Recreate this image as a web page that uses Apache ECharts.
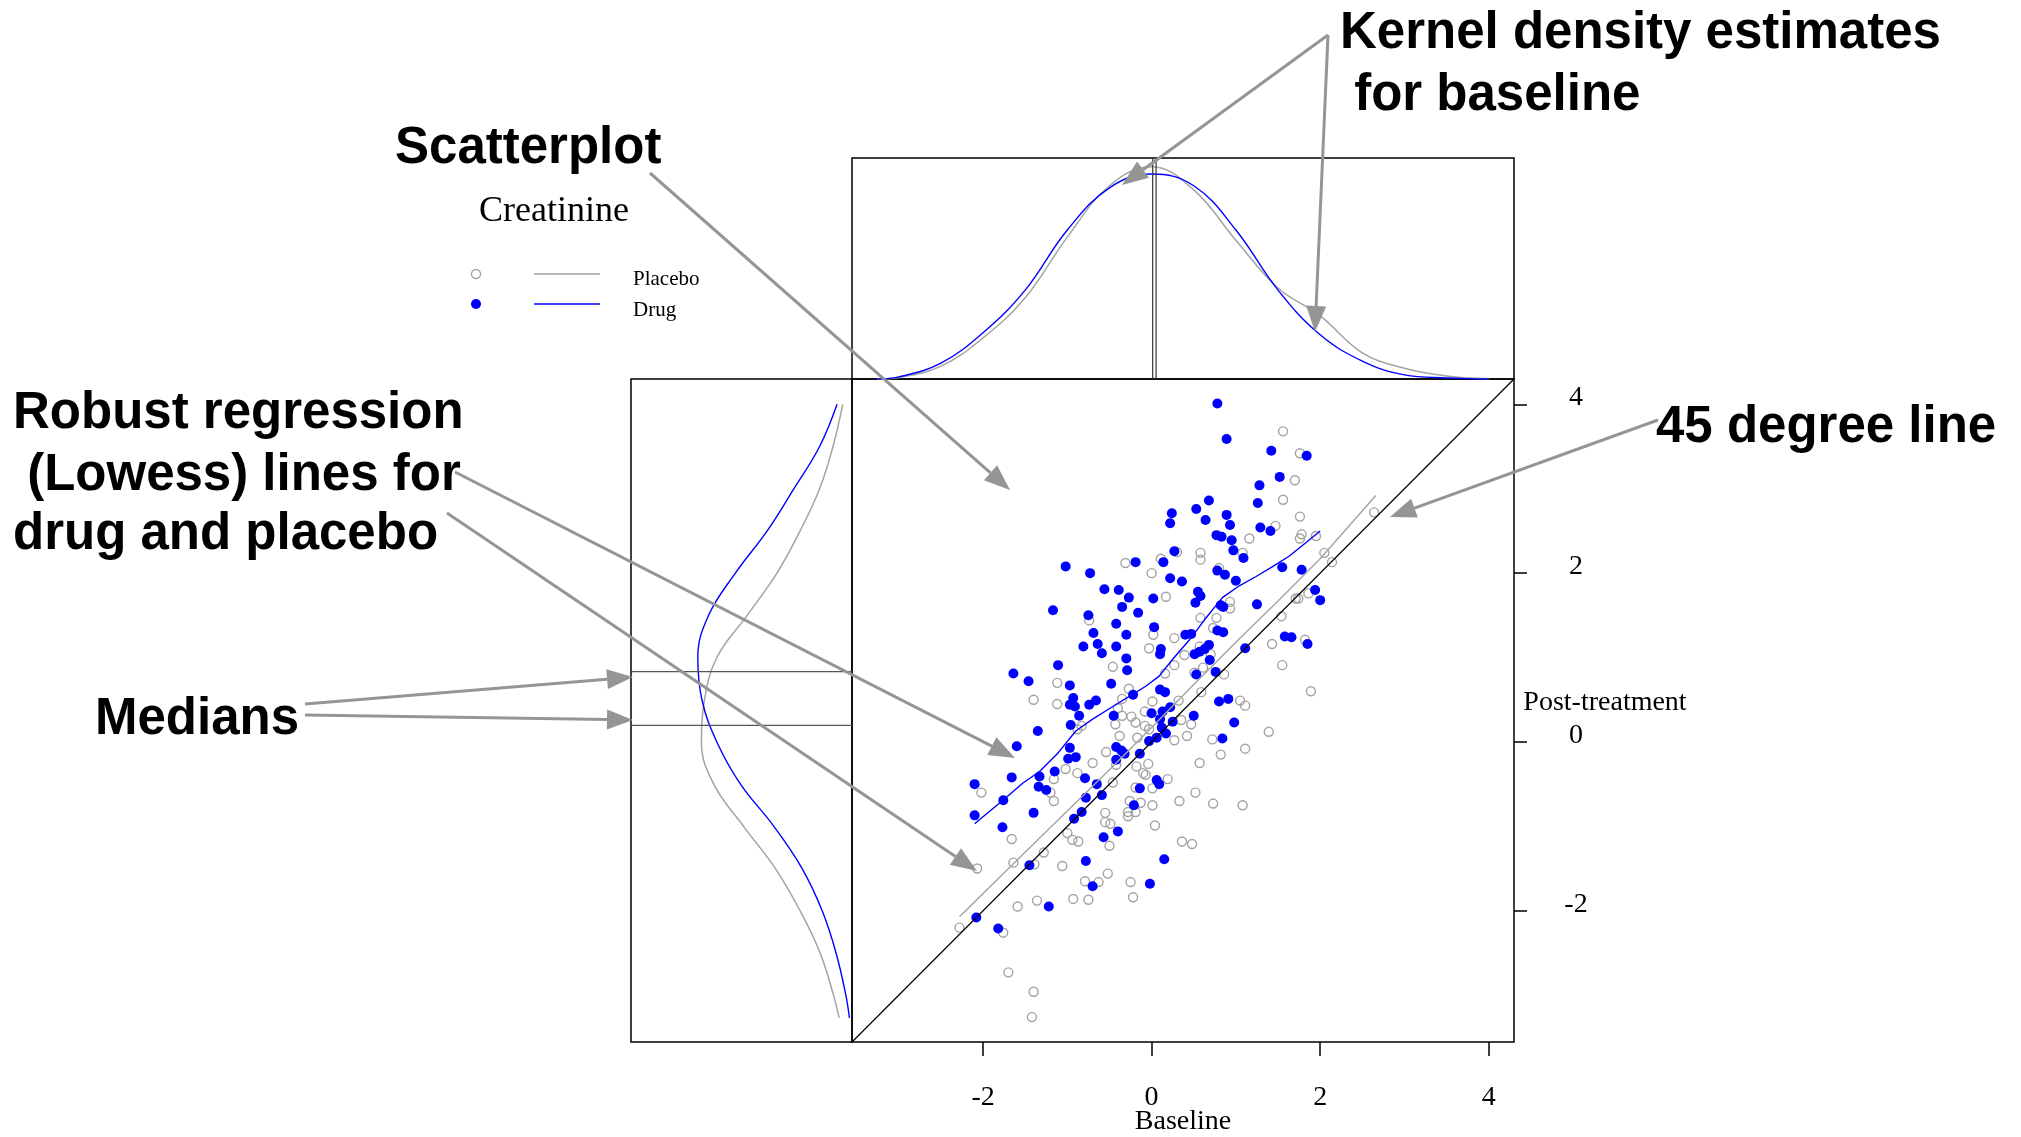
<!DOCTYPE html>
<html>
<head>
<meta charset="utf-8">
<title>Creatinine</title>
<script src="https://cdn.jsdelivr.net/npm/echarts@6/dist/echarts.min.js"></script>
<style>
  html, body { margin: 0; padding: 0; background: #fff; }
  #chart { width: 2021px; height: 1137px; }
</style>
</head>
<body>
<div id="chart"></div>
<script>
// axis range shared by baseline and post-treatment
const LO = -3.555
const HI = 4.3
const TICKS = [-2, 0, 2, 4]

// scatter: placebo (open grey circles)
const placeboX = [1.56, 1.76, 1.70, 1.56, 1.76, 1.47, 1.16, 1.78, 1.76, 1.95, 2.05, 2.14, 1.08, 0.58, 0.58, 0.30, 0.11, -0.31, 0.00, 0.17,
  0.80, 0.93, 0.93, 1.71, 1.74, 1.86, 1.54, -0.74, 0.58, 0.77, 0.02, 0.27, 0.73, 1.82, -0.03, 0.39, 0.57, 0.70, 1.43, 1.55,
  -0.46, 0.16, 0.27, 0.51, 0.61, 0.86, -1.12, -1.40, -1.12, -0.27, -0.35, 0.01, 0.32, 0.59, -0.40, -0.35, -0.24, -0.08, -0.43, -0.19,
  -0.08, -0.03, 0.35, 0.47, 0.27, 0.42, 0.72, 0.82, 0.57, 1.05, 1.11, 1.39, 1.11, 1.89, -0.38, -0.17, -0.54, -0.70, -0.42, -0.18,
  -0.04, -0.10, -0.07, 0.19, 0.01, -0.88, -1.02, -1.16, -0.88, -0.83, -1.20, -1.16, -2.02, -0.46, -0.19, -0.26, -0.13, 0.01, 0.33, 0.52,
  0.73, 1.08, -0.55, -0.28, -0.19, -0.55, -0.49, -0.28, 0.04, -1.00, -1.66, -0.94, -0.87, -0.50, -1.28, -1.64, -1.39, -2.07, -1.06, -0.52,
  -0.63, -0.79, -0.25, -0.22, -0.75, -0.93, -1.36, -1.59, 0.36, 0.48, -2.28, -1.76, -1.70, -1.40, -1.42, 2.64]
const placeboY = [3.68, 3.42, 3.10, 2.87, 2.67, 2.56, 2.41, 2.46, 2.41, 2.44, 2.24, 2.13, 2.24, 2.24, 2.16, 2.25, 2.17, 2.12, 2.00, 1.72,
  2.06, 1.66, 1.58, 1.70, 1.70, 1.76, 1.49, 1.44, 1.47, 1.47, 1.27, 1.23, 1.35, 1.21, 1.11, 1.03, 1.13, 1.04, 1.16, 0.91,
  0.89, 0.81, 0.91, 0.82, 0.88, 0.80, 0.70, 0.50, 0.45, 0.63, 0.51, 0.48, 0.49, 0.59, 0.40, 0.31, 0.30, 0.36, 0.21, 0.23,
  0.19, 0.15, 0.26, 0.21, 0.02, 0.07, 0.03, -0.15, -0.25, 0.49, 0.43, 0.12, -0.08, 0.60, 0.07, 0.05, -0.12, -0.25, -0.27, -0.29,
  -0.26, -0.37, -0.39, -0.44, -0.55, -0.37, -0.32, -0.44, 0.15, 0.19, -0.60, -0.70, -0.60, -0.48, -0.54, -0.70, -0.72, -0.75, -0.70, -0.60,
  -0.73, -0.75, -0.84, -0.83, -0.83, -0.95, -0.97, -0.88, -0.99, -1.08, -1.15, -1.16, -1.18, -1.23, -1.31, -1.43, -1.45, -1.50, -1.47, -1.56,
  -1.66, -1.65, -1.66, -1.84, -1.87, -1.86, -1.88, -1.95, -1.18, -1.21, -2.20, -2.26, -2.73, -2.96, -3.26, 2.72]

// scatter: drug (filled blue dots)
const drugX = [0.78, 0.89, 1.42, 1.84, 1.52, 1.28, 1.26, 0.68, 0.53, 0.24, 0.22, 0.64, 0.89, 0.93, 1.29, 1.41, 0.77, 0.83, 0.95, 0.97,
  1.09, 0.27, 0.14, -0.19, -1.02, -0.73, -0.56, -0.39, -0.27, -0.35, -0.16, 0.02, 0.22, 0.36, 0.55, 0.58, 0.52, 0.78, 0.87, 1.00,
  1.55, 1.78, 1.94, 2.00, 1.25, 0.82, 0.85, -1.17, -0.75, -0.42, -0.69, -0.30, 0.03, 0.40, 0.47, 0.78, 0.85, 1.58, 1.66, -0.81,
  -0.64, -0.59, -0.42, -0.30, -0.29, 0.11, 0.10, 0.51, 0.57, 0.63, 0.68, 0.69, 1.11, 0.76, 0.53, 1.85, -1.11, -1.64, -1.46, -0.97,
  -0.48, -0.93, -0.97, -0.91, -0.74, -0.66, -0.86, -0.22, -0.45, 0.10, 0.16, 0.00, 0.13, 0.22, 0.10, 0.25, 0.17, 0.12, 0.50, 0.80,
  0.91, 0.98, 0.84, -0.96, -1.35, -1.60, -0.97, -0.99, -0.90, -1.15, -1.33, -1.66, -2.10, -1.34, -1.25, -0.79, -0.65, -0.59, -0.78, -0.42,
  -0.36, -0.32, -0.42, -0.14, -0.03, 0.06, 0.06, 0.09, -0.14, -0.21, -1.76, -2.10, -1.40, -1.77, -0.83, -0.92, -0.40, -0.57, -0.78, -1.45,
  0.15, -0.70, -0.02, -1.22, -2.08, -1.82]
const drugY = [4.01, 3.59, 3.45, 3.39, 3.14, 3.04, 2.83, 2.86, 2.76, 2.71, 2.59, 2.63, 2.69, 2.57, 2.54, 2.50, 2.45, 2.43, 2.39, 2.27,
  2.18, 2.26, 2.13, 2.13, 2.08, 2.00, 1.81, 1.80, 1.71, 1.60, 1.53, 1.70, 1.94, 1.90, 1.78, 1.73, 1.65, 2.03, 1.98, 1.91,
  2.07, 2.04, 1.80, 1.68, 1.63, 1.62, 1.60, 1.56, 1.50, 1.40, 1.29, 1.27, 1.36, 1.27, 1.28, 1.32, 1.30, 1.25, 1.24, 1.13,
  1.16, 1.05, 1.13, 0.99, 0.85, 1.10, 1.04, 1.04, 1.07, 1.10, 1.15, 0.97, 1.11, 0.83, 0.80, 1.16, 0.91, 0.81, 0.72, 0.67,
  0.69, 0.52, 0.44, 0.42, 0.44, 0.49, 0.31, 0.56, 0.31, 0.62, 0.59, 0.34, 0.36, 0.41, 0.27, 0.24, 0.10, 0.17, 0.31, 0.48,
  0.51, 0.23, 0.04, 0.20, 0.13, -0.05, -0.07, -0.20, -0.18, -0.35, -0.41, -0.42, -0.50, -0.53, -0.57, -0.43, -0.50, -0.63, -0.66, -0.06,
  -0.10, -0.14, -0.21, -0.14, 0.01, 0.05, -0.45, -0.50, -0.55, -0.75, -0.69, -0.87, -0.84, -1.01, -0.83, -0.91, -1.06, -1.13, -1.41, -1.46,
  -1.39, -1.71, -1.68, -1.95, -2.08, -2.21]

// lowess fits
const placeboLowX = [-2.28, -1.80, -1.35, -0.94, -0.50, 0.00, 0.50, 1.00, 1.50, 2.00, 2.66]
const placeboLowY = [-2.07, -1.60, -1.16, -0.76, -0.33, 0.17, 0.68, 1.18, 1.67, 2.17, 2.92]
const drugLowX = [-2.10, -1.75, -1.53, -1.33, -1.11, -0.90, -0.70, -0.46, -0.23, -0.07, 0.09, 0.25, 0.45, 0.63, 0.84, 1.04, 1.24, 1.44, 1.63, 1.83, 2.00]
const drugLowY = [-0.97, -0.68, -0.49, -0.35, -0.13, 0.13, 0.27, 0.42, 0.56, 0.66, 0.78, 0.98, 1.21, 1.45, 1.71, 1.85, 1.96, 2.08, 2.20, 2.36, 2.50]

// kernel density of baseline (top panel)
const baseGrid = [-3.26, -3.0, -2.5, -2.0, -1.5, -1.0, -0.5, 0.0, 0.5, 1.0, 1.5, 2.0, 2.5, 3.0, 3.5, 4.0]
const placeboBaseDens = [0, 0.003, 0.025, 0.080, 0.158, 0.276, 0.376, 0.413, 0.368, 0.270, 0.177, 0.123, 0.051, 0.021, 0.006, 0.001]
const drugBaseDens = [0, 0.004, 0.031, 0.090, 0.173, 0.290, 0.372, 0.399, 0.376, 0.290, 0.173, 0.086, 0.035, 0.008, 0.002, 0]
const baseMedians = [0.013, 0.053]

// kernel density of post-treatment (left panel)
const postGrid = [4.0, 3.5, 3.0, 2.5, 2.0, 1.5, 1.0, 0.5, 0.0, -0.5, -1.0, -1.5, -2.0, -2.5, -3.0, -3.27]
const placeboPostDens = [0.018, 0.037, 0.063, 0.101, 0.146, 0.204, 0.263, 0.287, 0.293, 0.269, 0.211, 0.149, 0.101, 0.062, 0.036, 0.025]
const drugPostDens = [0.029, 0.063, 0.113, 0.165, 0.227, 0.279, 0.300, 0.292, 0.263, 0.217, 0.152, 0.097, 0.058, 0.031, 0.012, 0.005]
const postMedians = [0.834, 0.197]

const DENS_MAX = 0.43
const GREY = '#a3a3a3'
const BLUE = '#0000ff'
const ARROW = '#959595'
const SERIF = '"Liberation Serif", "DejaVu Serif", serif'
const SANS = '"Liberation Sans", Arial, sans-serif'

const zip = (a, b) => a.map((v, i) => [v, b[i]])

// grey annotation arrow with a filled head
function arrow(x1, y1, x2, y2) {
  const len = 26, half = 10
  const dx = x2 - x1, dy = y2 - y1
  const d = Math.sqrt(dx * dx + dy * dy)
  const ux = dx / d, uy = dy / d
  const bx = x2 - ux * len, by = y2 - uy * len
  return [
    { type: 'line', z: 100, shape: { x1, y1, x2: bx, y2: by }, style: { stroke: ARROW, lineWidth: 3 } },
    { type: 'polygon', z: 100, shape: { points: [[x2, y2], [bx - uy * half, by + ux * half], [bx + uy * half, by - ux * half]] }, style: { fill: ARROW } }
  ]
}

function label(text, x, y, size, opts = {}) {
  return {
    type: 'text', z: 100, x, y,
    style: {
      text, fill: '#000', fontSize: size,
      fontFamily: opts.family || SANS, fontWeight: opts.weight || 'bold',
      align: opts.align || 'left', verticalAlign: 'middle'
    }
  }
}

const frame = { show: true, borderColor: '#000', borderWidth: 1.5, backgroundColor: 'transparent', outerBoundsMode: 'none', containLabel: false }

const option = {
  animation: false,
  backgroundColor: '#fff',
  grid: [
    { left: 852, top: 379, width: 662, height: 663, ...frame },
    { left: 852, top: 158, width: 662, height: 221, ...frame },
    { left: 631, top: 379, width: 221, height: 663, ...frame }
  ],
  xAxis: [
    {
      gridIndex: 0, type: 'value', min: LO, max: HI, position: 'bottom',
      axisLine: { show: false, onZero: false },
      axisTick: { show: true, inside: false, length: 14, customValues: TICKS, lineStyle: { color: '#000', width: 1.5 } },
      axisLabel: { customValues: TICKS, margin: 42, color: '#000', fontSize: 28, fontFamily: SERIF },
      splitLine: { show: false }
    },
    { gridIndex: 1, type: 'value', min: LO, max: HI, show: false },
    { gridIndex: 2, type: 'value', min: 0, max: DENS_MAX, inverse: true, show: false }
  ],
  yAxis: [
    {
      gridIndex: 0, type: 'value', min: LO, max: HI, position: 'right',
      axisLine: { show: false, onZero: false },
      axisTick: { show: true, inside: false, length: 13, customValues: TICKS, lineStyle: { color: '#000', width: 1.5 } },
      axisLabel: { customValues: TICKS, margin: 62, align: 'center', verticalAlign: 'bottom', lineHeight: 13, color: '#000', fontSize: 28, fontFamily: SERIF },
      splitLine: { show: false }
    },
    { gridIndex: 1, type: 'value', min: 0, max: DENS_MAX, show: false },
    { gridIndex: 2, type: 'value', min: LO, max: HI, show: false }
  ],
  series: [
    {
      name: 'Placebo', type: 'scatter', xAxisIndex: 0, yAxisIndex: 0,
      data: zip(placeboX, placeboY), symbol: 'circle', symbolSize: 9,
      itemStyle: { color: 'rgba(0,0,0,0)', borderColor: GREY, borderWidth: 1.4, opacity: 1 }
    },
    {
      name: 'Drug', type: 'scatter', xAxisIndex: 0, yAxisIndex: 0,
      data: zip(drugX, drugY), symbol: 'circle', symbolSize: 10,
      itemStyle: { color: BLUE, opacity: 1 }
    },
    {
      name: '45 degree', type: 'line', xAxisIndex: 0, yAxisIndex: 0,
      data: [[LO, LO], [HI, HI]], showSymbol: false, lineStyle: { color: '#000', width: 1.2 }
    },
    {
      name: 'Placebo lowess', type: 'line', xAxisIndex: 0, yAxisIndex: 0,
      data: zip(placeboLowX, placeboLowY), showSymbol: false, lineStyle: { color: GREY, width: 1.4 }
    },
    {
      name: 'Drug lowess', type: 'line', xAxisIndex: 0, yAxisIndex: 0,
      data: zip(drugLowX, drugLowY), showSymbol: false, lineStyle: { color: BLUE, width: 1.4 }
    },
    // top panel: baseline densities and medians
    {
      type: 'line', xAxisIndex: 1, yAxisIndex: 1, data: zip(baseGrid, placeboBaseDens),
      smooth: 0.4, showSymbol: false, lineStyle: { color: GREY, width: 1.5 }
    },
    {
      type: 'line', xAxisIndex: 1, yAxisIndex: 1, data: zip(baseGrid, drugBaseDens),
      smooth: 0.4, showSymbol: false, lineStyle: { color: BLUE, width: 1.4 }
    },
    ...baseMedians.map(m => ({
      type: 'line', xAxisIndex: 1, yAxisIndex: 1, data: [[m, 0], [m, DENS_MAX]],
      showSymbol: false, lineStyle: { color: '#333', width: 1.2 }
    })),
    // left panel: post-treatment densities and medians
    {
      type: 'line', xAxisIndex: 2, yAxisIndex: 2, data: zip(placeboPostDens, postGrid),
      smooth: 0.4, showSymbol: false, lineStyle: { color: GREY, width: 1.5 }
    },
    {
      type: 'line', xAxisIndex: 2, yAxisIndex: 2, data: zip(drugPostDens, postGrid),
      smooth: 0.4, showSymbol: false, lineStyle: { color: BLUE, width: 1.4 }
    },
    ...postMedians.map(m => ({
      type: 'line', xAxisIndex: 2, yAxisIndex: 2, data: [[0, m], [DENS_MAX, m]],
      showSymbol: false, lineStyle: { color: '#555', width: 1.2 }
    }))
  ],
  graphic: [
    // title and legend
    label('Creatinine', 479, 212, 36, { family: SERIF, weight: 'normal' }),
    { type: 'circle', shape: { cx: 476, cy: 274, r: 4.5 }, style: { fill: 'none', stroke: GREY, lineWidth: 1.4 } },
    { type: 'circle', shape: { cx: 476, cy: 304, r: 5 }, style: { fill: BLUE } },
    { type: 'line', shape: { x1: 534, y1: 274, x2: 600, y2: 274 }, style: { stroke: GREY, lineWidth: 1.4 } },
    { type: 'line', shape: { x1: 534, y1: 304, x2: 600, y2: 304 }, style: { stroke: BLUE, lineWidth: 1.4 } },
    label('Placebo', 633, 279, 21, { family: SERIF, weight: 'normal' }),
    label('Drug', 633, 310, 21, { family: SERIF, weight: 'normal' }),
    // axis titles
    label('Post-treatment', 1605, 703, 28, { family: SERIF, weight: 'normal', align: 'center' }),
    label('Baseline', 1183, 1122, 28, { family: SERIF, weight: 'normal', align: 'center' }),
    // annotations
    label('Kernel density estimates', 1340, 34, 51),
    label(' for baseline', 1340, 96, 51),
    label('Scatterplot', 395, 149, 51),
    label('Robust regression', 13, 414, 51),
    label(' (Lowess) lines for', 13, 476, 51),
    label('drug and placebo', 13, 535, 51),
    label('Medians', 95, 720, 51),
    label('45 degree line', 1656, 428, 51),
    ...arrow(1328, 35, 1122, 185),
    ...arrow(1328, 35, 1315, 332),
    ...arrow(650, 173, 1010, 490),
    ...arrow(455, 472, 1015, 758),
    ...arrow(447, 513, 977, 871),
    ...arrow(305, 704, 633, 677),
    ...arrow(305, 715, 633, 720),
    ...arrow(1658, 420, 1390, 517)
  ]
}

const chart = echarts.init(document.getElementById('chart'))
chart.setOption(option)
</script>
</body>
</html>
